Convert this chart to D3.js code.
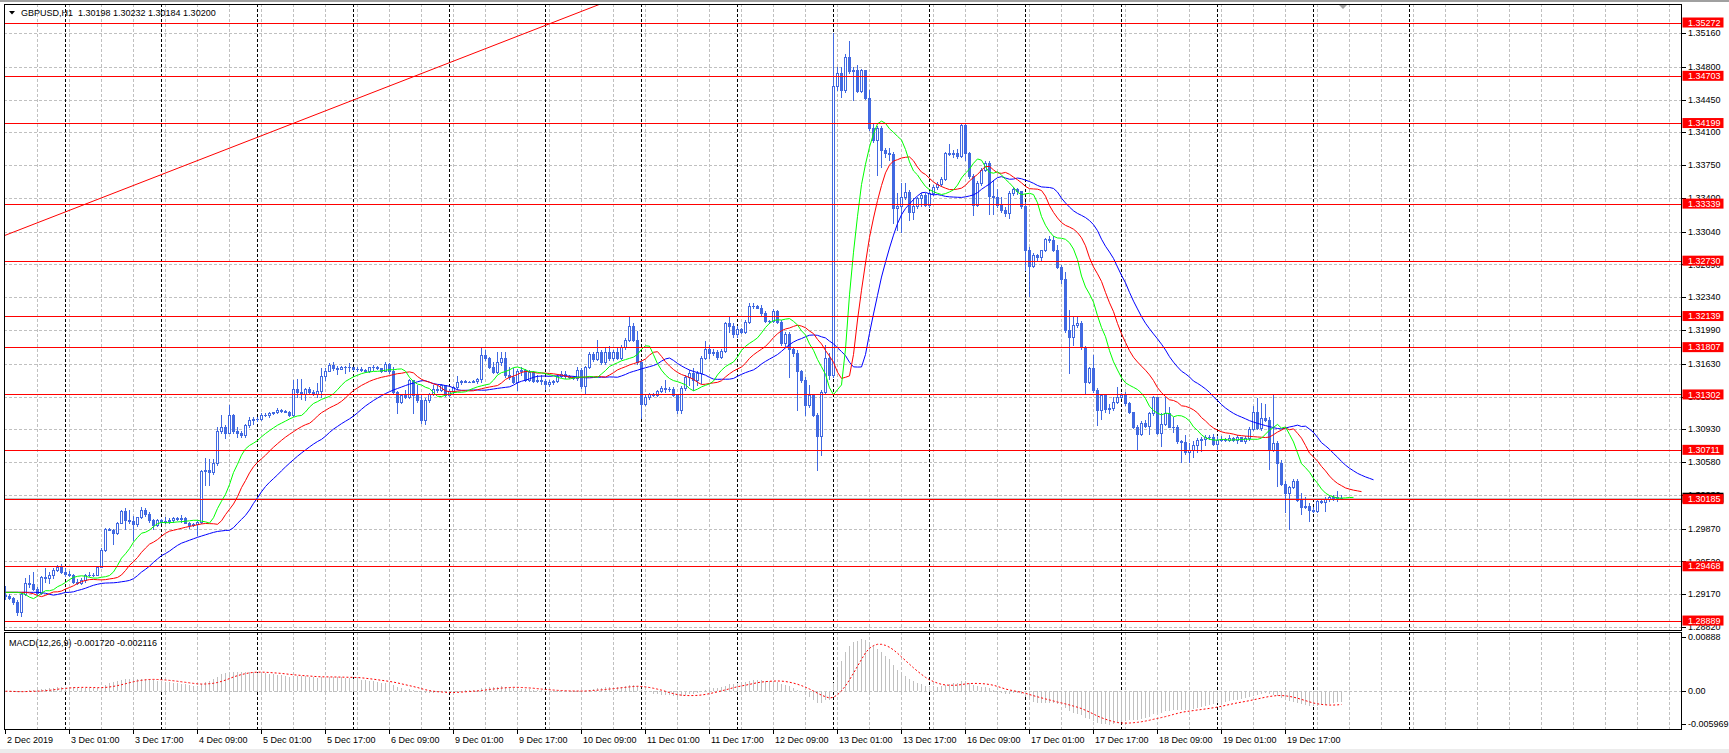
<!DOCTYPE html>
<html><head><meta charset="utf-8">
<script src="https://cdn.jsdelivr.net/npm/d3@7"></script>
<style>
html,body{margin:0;padding:0;background:#fff;overflow:hidden}
svg{display:block}
text{font-family:"Liberation Sans",Arial,sans-serif;font-size:9px;fill:#000}
</style></head><body>
<svg id="chart" width="1729" height="753"></svg>
<script>
// ---------------- DATA ----------------
const symbolHeader = "GBPUSD,H1  1.30198 1.30232 1.30184 1.30200";
const macdHeader = "MACD(12,26,9) -0.001720 -0.002116";
const timeLabels = ["2 Dec 2019","3 Dec 01:00","3 Dec 17:00","4 Dec 09:00","5 Dec 01:00","5 Dec 17:00","6 Dec 09:00","9 Dec 01:00","9 Dec 17:00","10 Dec 09:00","11 Dec 01:00","11 Dec 17:00","12 Dec 09:00","13 Dec 01:00","13 Dec 17:00","16 Dec 09:00","17 Dec 01:00","17 Dec 17:00","18 Dec 09:00","19 Dec 01:00","19 Dec 17:00"];
const priceTicks = ["1.35160","1.34800","1.34450","1.34100","1.33750","1.33400","1.33040","1.32690","1.32340","1.31990","1.31630","1.31280","1.30930","1.30580","1.30230","1.29870","1.29520","1.29170","1.28820"];
const macdTicks = ["0.00888","0.00","-0.005969"];
const levelPrices = [1.35272,1.34703,1.34199,1.33339,1.32730,1.32139,1.31807,1.31302,1.30711,1.30185,1.29468,1.28889];
const trendBars = [0, 103.5];
const trendPrices = [1.33000, 1.34717];
const bidPrice = 1.30200;

const opens = [1.2916,1.2915,1.2913,1.2909,1.2898,1.2917,1.2929,1.2928,1.2923,1.2918,
1.2935,1.2934,1.2937,1.2943,1.2946,1.2941,1.2939,1.2938,1.2930,1.2929,
1.2932,1.2937,1.2938,1.2937,1.2946,1.2964,1.2987,1.2986,1.2982,1.2993,
1.3006,1.2996,1.2995,1.2992,1.2999,1.3007,1.3003,1.2996,1.2991,1.2996,
1.2994,1.2995,1.2996,1.2998,1.2997,1.2998,1.2993,1.2991,1.2992,1.2994,
1.3048,1.3050,1.3047,1.3057,1.3091,1.3095,1.3089,1.3108,1.3091,1.3089,
1.3087,1.3098,1.3103,1.3104,1.3104,1.3108,1.3108,1.3110,1.3111,1.3114,
1.3113,1.3112,1.3108,1.3136,1.3133,1.3131,1.3136,1.3133,1.3131,1.3134,
1.3150,1.3155,1.3162,1.3158,1.3157,1.3159,1.3159,1.3159,1.3157,1.3157,
1.3156,1.3155,1.3159,1.3160,1.3158,1.3155,1.3163,1.3155,1.3133,1.3122,
1.3130,1.3128,1.3146,1.3130,1.3124,1.3103,1.3124,1.3131,1.3136,1.3135,
1.3140,1.3130,1.3134,1.3138,1.3144,1.3145,1.3144,1.3144,1.3145,1.3147,
1.3172,1.3169,1.3159,1.3154,1.3165,1.3169,1.3151,1.3149,1.3144,1.3155,
1.3156,1.3146,1.3154,1.3145,1.3146,1.3145,1.3141,1.3144,1.3145,1.3150,
1.3152,1.3150,1.3149,1.3148,1.3156,1.3139,1.3159,1.3173,1.3168,1.3176,
1.3165,1.3176,1.3169,1.3176,1.3169,1.3181,1.3188,1.3203,1.3188,1.3165,
1.3120,1.3128,1.3131,1.3130,1.3134,1.3137,1.3136,1.3136,1.3130,1.3114,
1.3137,1.3149,1.3153,1.3146,1.3153,1.3169,1.3179,1.3174,1.3176,1.3170,
1.3177,1.3206,1.3203,1.3195,1.3200,1.3197,1.3208,1.3225,1.3225,1.3223,
1.3217,1.3209,1.3209,1.3219,1.3208,1.3185,1.3195,1.3179,1.3174,1.3155,
1.3146,1.3119,1.3130,1.3108,1.3086,1.3133,1.3169,1.3151,1.3459,1.3473,
1.3455,1.3490,1.3475,1.3476,1.3454,1.3476,1.3447,1.3415,1.3402,1.3415,
1.3391,1.3388,1.3387,1.3329,1.3331,1.3341,1.3346,1.3325,1.3331,1.3340,
1.3343,1.3332,1.3345,1.3352,1.3355,1.3360,1.3388,1.3387,1.3388,1.3385,
1.3418,1.3388,1.3363,1.3332,1.3356,1.3370,1.3377,1.3342,1.3341,1.3332,
1.3327,1.3324,1.3345,1.3349,1.3347,1.3331,1.3284,1.3267,1.3279,1.3277,
1.3284,1.3296,1.3295,1.3284,1.3266,1.3253,1.3199,1.3192,1.3204,1.3207,
1.3181,1.3144,1.3158,1.3135,1.3114,1.3130,1.3115,1.3116,1.3122,1.3128,
1.3130,1.3121,1.3111,1.3095,1.3088,1.3100,1.3097,1.3110,1.3128,1.3089,
1.3099,1.3110,1.3096,1.3095,1.3080,1.3079,1.3069,1.3071,1.3076,1.3082,
1.3083,1.3085,1.3085,1.3077,1.3082,1.3083,1.3082,1.3084,1.3082,1.3085,
1.3081,1.3084,1.3093,1.3112,1.3094,1.3105,1.3103,1.3071,1.3078,1.3057,
1.3035,1.3025,1.3031,1.3038,1.3018,1.3010,1.3011,1.3007,1.3006,1.3017,
1.3015,1.3019,1.3021,1.3020,1.30198];

const highs = [1.2926,1.2917,1.2914,1.2911,1.2918,1.2934,1.2937,1.2941,1.2925,1.2936,
1.2945,1.2941,1.2945,1.2948,1.2949,1.2945,1.2942,1.2939,1.2933,1.2934,
1.2939,1.2941,1.2940,1.2947,1.2966,1.2988,1.2988,1.2987,1.2994,1.3007,
1.3009,1.3007,1.3000,1.2999,1.3010,1.3009,1.3005,1.2997,1.2997,1.2997,
1.2999,1.2998,1.2999,1.2999,1.3002,1.2999,1.2994,1.2993,1.2995,1.3050,
1.3062,1.3061,1.3061,1.3096,1.3108,1.3098,1.3119,1.3109,1.3096,1.3091,
1.3099,1.3106,1.3106,1.3106,1.3110,1.3110,1.3111,1.3112,1.3116,1.3115,
1.3114,1.3113,1.3146,1.3147,1.3147,1.3137,1.3138,1.3135,1.3142,1.3158,
1.3158,1.3164,1.3165,1.3161,1.3161,1.3161,1.3164,1.3160,1.3159,1.3159,
1.3157,1.3160,1.3162,1.3161,1.3158,1.3165,1.3164,1.3160,1.3134,1.3131,
1.3135,1.3147,1.3146,1.3140,1.3130,1.3126,1.3132,1.3140,1.3140,1.3141,
1.3140,1.3136,1.3139,1.3150,1.3146,1.3146,1.3145,1.3146,1.3148,1.3180,
1.3178,1.3170,1.3165,1.3175,1.3175,1.3175,1.3159,1.3158,1.3157,1.3159,
1.3157,1.3156,1.3155,1.3151,1.3151,1.3147,1.3146,1.3146,1.3152,1.3155,
1.3155,1.3151,1.3150,1.3159,1.3158,1.3161,1.3175,1.3175,1.3188,1.3178,
1.3180,1.3182,1.3178,1.3180,1.3183,1.3190,1.3214,1.3206,1.3198,1.3167,
1.3131,1.3132,1.3132,1.3135,1.3139,1.3146,1.3138,1.3138,1.3131,1.3139,
1.3151,1.3156,1.3158,1.3155,1.3171,1.3187,1.3183,1.3179,1.3178,1.3179,
1.3208,1.3213,1.3206,1.3203,1.3201,1.3210,1.3228,1.3228,1.3226,1.3226,
1.3219,1.3210,1.3221,1.3220,1.3210,1.3197,1.3197,1.3181,1.3178,1.3156,
1.3149,1.3140,1.3131,1.3110,1.3135,1.3183,1.3174,1.3516,1.3480,1.3480,
1.3494,1.3507,1.3480,1.3482,1.3478,1.3477,1.3455,1.3420,1.3417,1.3417,
1.3393,1.3393,1.3389,1.3345,1.3356,1.3356,1.3348,1.3340,1.3341,1.3345,
1.3345,1.3347,1.3354,1.3357,1.3362,1.3389,1.3397,1.3391,1.3392,1.3420,
1.3420,1.3389,1.3365,1.3358,1.3372,1.3379,1.3379,1.3359,1.3350,1.3341,
1.3330,1.3347,1.3352,1.3351,1.3347,1.3336,1.3288,1.3281,1.3280,1.3284,
1.3297,1.3299,1.3299,1.3290,1.3268,1.3261,1.3220,1.3213,1.3213,1.3209,
1.3182,1.3160,1.3172,1.3137,1.3131,1.3131,1.3120,1.3128,1.3138,1.3132,
1.3133,1.3122,1.3112,1.3098,1.3102,1.3103,1.3112,1.3129,1.3128,1.3110,
1.3128,1.3117,1.3106,1.3098,1.3082,1.3087,1.3078,1.3080,1.3084,1.3085,
1.3087,1.3087,1.3088,1.3086,1.3086,1.3084,1.3087,1.3085,1.3087,1.3085,
1.3086,1.3095,1.3118,1.3126,1.3121,1.3120,1.3106,1.3131,1.3080,1.3060,
1.3038,1.3033,1.3040,1.3040,1.3025,1.3021,1.3014,1.3010,1.3018,1.3018,
1.3021,1.3023,1.3023,1.3027,1.30232];

const lows = [1.2912,1.2912,1.2907,1.2895,1.2894,1.2916,1.2925,1.2922,1.2916,1.2917,
1.2930,1.2929,1.2934,1.2942,1.2940,1.2936,1.2936,1.2929,1.2928,1.2928,
1.2930,1.2936,1.2936,1.2937,1.2946,1.2963,1.2985,1.2971,1.2981,1.2993,
1.2987,1.2993,1.2975,1.2990,1.2998,1.3000,1.2994,1.2987,1.2990,1.2993,
1.2993,1.2993,1.2994,1.2996,1.2994,1.2993,1.2988,1.2990,1.2980,1.2993,
1.3034,1.3034,1.3045,1.3055,1.3089,1.3084,1.3089,1.3089,1.3085,1.3085,
1.3085,1.3096,1.3099,1.3102,1.3103,1.3107,1.3106,1.3109,1.3110,1.3112,
1.3111,1.3107,1.3107,1.3128,1.3125,1.3124,1.3131,1.3130,1.3128,1.3127,
1.3146,1.3155,1.3156,1.3152,1.3157,1.3153,1.3155,1.3156,1.3155,1.3155,
1.3154,1.3154,1.3156,1.3157,1.3154,1.3155,1.3153,1.3131,1.3110,1.3121,
1.3126,1.3126,1.3110,1.3122,1.3100,1.3099,1.3122,1.3130,1.3133,1.3134,
1.3129,1.3129,1.3131,1.3136,1.3141,1.3143,1.3143,1.3143,1.3142,1.3144,
1.3167,1.3158,1.3153,1.3153,1.3162,1.3149,1.3147,1.3142,1.3135,1.3151,
1.3145,1.3145,1.3144,1.3143,1.3141,1.3136,1.3139,1.3141,1.3143,1.3149,
1.3148,1.3148,1.3147,1.3146,1.3137,1.3131,1.3158,1.3166,1.3167,1.3163,
1.3163,1.3167,1.3167,1.3168,1.3168,1.3179,1.3187,1.3187,1.3163,1.3105,
1.3119,1.3125,1.3129,1.3129,1.3133,1.3133,1.3134,1.3129,1.3110,1.3110,
1.3135,1.3140,1.3135,1.3140,1.3142,1.3168,1.3169,1.3172,1.3168,1.3169,
1.3176,1.3197,1.3192,1.3192,1.3196,1.3196,1.3206,1.3222,1.3222,1.3215,
1.3208,1.3207,1.3208,1.3207,1.3183,1.3181,1.3149,1.3171,1.3114,1.3144,
1.3108,1.3117,1.3107,1.3050,1.3066,1.3131,1.3147,1.3149,1.3455,1.3448,
1.3453,1.3473,1.3445,1.3453,1.3453,1.3446,1.3412,1.3400,1.3364,1.3373,
1.3384,1.3380,1.3313,1.3306,1.3304,1.3339,1.3316,1.3318,1.3329,1.3331,
1.3331,1.3330,1.3343,1.3350,1.3353,1.3359,1.3386,1.3384,1.3383,1.3384,
1.3380,1.3361,1.3322,1.3331,1.3354,1.3369,1.3323,1.3323,1.3330,1.3325,
1.3321,1.3319,1.3343,1.3344,1.3329,1.3263,1.3235,1.3266,1.3274,1.3274,
1.3283,1.3293,1.3283,1.3265,1.3249,1.3197,1.3153,1.3183,1.3202,1.3179,
1.3131,1.3142,1.3133,1.3098,1.3104,1.3112,1.3110,1.3114,1.3121,1.3126,
1.3119,1.3110,1.3094,1.3071,1.3087,1.3096,1.3088,1.3108,1.3088,1.3075,
1.3098,1.3095,1.3090,1.3078,1.3058,1.3067,1.3058,1.3063,1.3069,1.3070,
1.3076,1.3083,1.3076,1.3071,1.3080,1.3081,1.3080,1.3081,1.3078,1.3080,
1.3078,1.3082,1.3092,1.3093,1.3092,1.3102,1.3051,1.3070,1.3032,1.3034,
1.3005,1.2987,1.3030,1.3016,1.3003,1.3009,1.2995,1.3005,1.3005,1.3014,
1.3006,1.3017,1.3018,1.3017,1.30184];

const closes = [1.2915,1.2913,1.2909,1.2898,1.2917,1.2929,1.2928,1.2923,1.2918,1.2935,
1.2934,1.2937,1.2943,1.2946,1.2941,1.2939,1.2938,1.2930,1.2929,1.2932,
1.2937,1.2938,1.2937,1.2946,1.2964,1.2987,1.2986,1.2982,1.2993,1.3006,
1.2996,1.2995,1.2992,1.2999,1.3007,1.3003,1.2996,1.2991,1.2996,1.2994,
1.2995,1.2996,1.2998,1.2997,1.2998,1.2993,1.2991,1.2992,1.2994,1.3048,
1.3050,1.3047,1.3057,1.3091,1.3095,1.3089,1.3108,1.3091,1.3089,1.3087,
1.3098,1.3103,1.3104,1.3104,1.3108,1.3108,1.3110,1.3111,1.3114,1.3113,
1.3112,1.3108,1.3136,1.3133,1.3131,1.3136,1.3133,1.3131,1.3134,1.3150,
1.3155,1.3162,1.3158,1.3157,1.3159,1.3159,1.3159,1.3157,1.3157,1.3156,
1.3155,1.3159,1.3160,1.3158,1.3155,1.3163,1.3155,1.3133,1.3122,1.3130,
1.3128,1.3146,1.3130,1.3124,1.3103,1.3124,1.3131,1.3136,1.3135,1.3140,
1.3130,1.3134,1.3138,1.3144,1.3145,1.3144,1.3144,1.3145,1.3147,1.3172,
1.3169,1.3159,1.3154,1.3165,1.3169,1.3151,1.3149,1.3144,1.3155,1.3156,
1.3146,1.3154,1.3145,1.3146,1.3145,1.3141,1.3144,1.3145,1.3150,1.3152,
1.3150,1.3149,1.3148,1.3156,1.3139,1.3159,1.3173,1.3168,1.3176,1.3165,
1.3176,1.3169,1.3176,1.3169,1.3181,1.3188,1.3203,1.3188,1.3165,1.3120,
1.3128,1.3131,1.3130,1.3134,1.3137,1.3136,1.3136,1.3130,1.3114,1.3137,
1.3149,1.3153,1.3146,1.3153,1.3169,1.3179,1.3174,1.3176,1.3170,1.3177,
1.3206,1.3203,1.3195,1.3200,1.3197,1.3208,1.3225,1.3225,1.3223,1.3217,
1.3209,1.3209,1.3219,1.3208,1.3185,1.3195,1.3179,1.3174,1.3155,1.3146,
1.3119,1.3130,1.3108,1.3086,1.3133,1.3169,1.3151,1.3459,1.3473,1.3455,
1.3490,1.3475,1.3476,1.3454,1.3476,1.3447,1.3415,1.3402,1.3415,1.3391,
1.3388,1.3387,1.3329,1.3331,1.3341,1.3346,1.3325,1.3331,1.3340,1.3343,
1.3332,1.3345,1.3352,1.3355,1.3360,1.3388,1.3387,1.3388,1.3385,1.3418,
1.3388,1.3363,1.3332,1.3356,1.3370,1.3377,1.3342,1.3341,1.3332,1.3327,
1.3324,1.3345,1.3349,1.3347,1.3331,1.3284,1.3267,1.3279,1.3277,1.3284,
1.3296,1.3295,1.3284,1.3266,1.3253,1.3199,1.3192,1.3204,1.3207,1.3181,
1.3144,1.3158,1.3135,1.3114,1.3130,1.3115,1.3116,1.3122,1.3128,1.3130,
1.3121,1.3111,1.3095,1.3088,1.3100,1.3097,1.3110,1.3128,1.3089,1.3099,
1.3110,1.3096,1.3095,1.3080,1.3079,1.3069,1.3071,1.3076,1.3082,1.3083,
1.3085,1.3085,1.3077,1.3082,1.3083,1.3082,1.3084,1.3082,1.3085,1.3081,
1.3084,1.3093,1.3112,1.3094,1.3105,1.3103,1.3071,1.3078,1.3057,1.3035,
1.3025,1.3031,1.3038,1.3018,1.3010,1.3011,1.3007,1.3006,1.3017,1.3015,
1.3019,1.3021,1.3020,1.3021,1.30200];

// ---------------- BUILD ----------------
const n = Math.min(opens.length, highs.length, lows.length, closes.length);
const bars = d3.range(n).map(i => ({i, o: opens[i], h: highs[i], l: lows[i], c: closes[i]}));

// bar times (hourly, weekends skipped) – category axis
const months = ["Jan","Feb","Mar","Apr","May","Jun","Jul","Aug","Sep","Oct","Nov","Dec"];
const barTimes = [];
{ let t = Date.UTC(2019, 11, 2, 9);
  for (let i = 0; i < n + 90; i++) {
    barTimes.push(t); t += 3600e3;
    if (new Date(t).getUTCDay() === 6) t += 48 * 3600e3;
  } }
const fmt = t => { const d = new Date(t); const p = v => String(v).padStart(2, "0");
  return `${d.getUTCDate()} ${months[d.getUTCMonth()]} ${p(d.getUTCHours())}:${p(d.getUTCMinutes())}`; };

// Indicators: Alligator (SMMA of median price 13/8, 8/5, 5/3) and MACD(12,26,9)
function smma(period) {
  const med = bars.map(b => (b.h + b.l) / 2);
  const out = []; let prev = med[0];
  med.forEach((m, i) => { prev = i === 0 ? m : (prev * (period - 1) + m) / period; out.push(prev); });
  return out;
}
function shifted(vals, shift) {
  return d3.range(n + shift).map(j => ({i: j, v: vals[Math.max(0, j - shift)]}));
}
const jaw = shifted(smma(13), 8), teeth = shifted(smma(8), 5), lips = shifted(smma(5), 3);
function ema(period) {
  const a = 2 / (period + 1); let prev = closes[0];
  return closes.slice(0, n).map((c, i) => (prev = i === 0 ? c : prev + a * (c - prev)));
}
const e12 = ema(12), e26 = ema(26);
const macd = e12.map((v, i) => v - e26[i]);
const signal = macd.map((v, i) => d3.mean(macd.slice(Math.max(0, i - 8), i + 1)));

// ---------------- SCALES ----------------
const W = 1729, H = 753;
const L = 4, R = 1681, mainTop = 4, mainBot = 630, mTop = 632, mBot = 729;
const x = d3.scaleLinear().domain([0, 416]).range([5, 1669]);
const yP = d3.scaleLinear().domain([+priceTicks[priceTicks.length - 1], +priceTicks[0]]).range([627, 33]);
const yM = d3.scaleLinear().domain([+macdTicks[2], +macdTicks[0]]).range([729, 635]);
const px = i => Math.round(x(i));

const svg = d3.select("#chart");
svg.append("rect").attr("width", W).attr("height", H).attr("fill", "#fff");
svg.append("rect").attr("width", W).attr("height", 2).attr("fill", "#a0a0a0");
svg.append("rect").attr("y", 749).attr("width", W).attr("height", 4).attr("fill", "#ececec");

const defs = svg.append("defs");
defs.append("clipPath").attr("id", "clipMain").append("rect").attr("x", L + 1).attr("y", mainTop + 1).attr("width", R - L - 1).attr("height", mainBot - mainTop - 1);
defs.append("clipPath").attr("id", "clipMacd").append("rect").attr("x", L + 1).attr("y", mTop + 1).attr("width", R - L - 1).attr("height", mBot - mTop - 1);

const gridIdx = d3.range(8, 417, 8);
const sepIdx = d3.range(barTimes.length).filter(i => i > 0 && i <= n + 23 && new Date(barTimes[i]).getUTCHours() === 0);

function vGrid(g, y0, y1) {
  g.selectAll("line.vg").data(gridIdx).join("line").attr("class", "vg")
    .attr("x1", i => px(i) + 0.5).attr("x2", i => px(i) + 0.5).attr("y1", y0).attr("y2", y1)
    .attr("stroke", "#c0c0c0").attr("stroke-dasharray", "3,2");
  g.selectAll("line.sep").data(sepIdx).join("line").attr("class", "sep")
    .attr("x1", i => px(i) + 0.5).attr("x2", i => px(i) + 0.5).attr("y1", y0).attr("y2", y1)
    .attr("stroke", "#000").attr("stroke-dasharray", "3,2");
}

// ---- main window ----
const gm = svg.append("g").attr("clip-path", "url(#clipMain)");
gm.selectAll("line.hg").data(priceTicks).join("line").attr("class", "hg")
  .attr("x1", L).attr("x2", R).attr("y1", d => Math.round(yP(+d)) + 0.5).attr("y2", d => Math.round(yP(+d)) + 0.5)
  .attr("stroke", "#c0c0c0").attr("stroke-dasharray", "3,2");
vGrid(gm, mainTop, mainBot);

// bid line
gm.append("line").attr("x1", L).attr("x2", R)
  .attr("y1", Math.round(yP(bidPrice)) + 0.5).attr("y2", Math.round(yP(bidPrice)) + 0.5)
  .attr("stroke", "#c0c0c0");

// candles
const blue = "#4169e1";
const gc = gm.append("g").attr("shape-rendering", "crispEdges");
const cg = gc.selectAll("g").data(bars).join("g");
cg.append("rect").attr("x", d => px(d.i)).attr("width", 1)
  .attr("y", d => Math.round(yP(Math.max(d.h, d.o, d.c))))
  .attr("height", d => Math.round(yP(Math.min(d.l, d.o, d.c))) - Math.round(yP(Math.max(d.h, d.o, d.c))) + 1)
  .attr("fill", blue);
const bodyTop = d => Math.round(yP(Math.max(d.o, d.c)));
const bodyH = d => Math.max(1, Math.round(yP(Math.min(d.o, d.c))) - bodyTop(d) + 1);
cg.append("rect").attr("x", d => px(d.i) - 1).attr("width", 3)
  .attr("y", bodyTop).attr("height", bodyH).attr("fill", blue);
cg.filter(d => d.c > d.o && bodyH(d) > 2).append("rect")
  .attr("x", d => px(d.i)).attr("width", 1)
  .attr("y", d => bodyTop(d) + 1).attr("height", d => bodyH(d) - 2).attr("fill", "#fff");

// alligator
const aLine = d3.line().x(d => px(d.i) + 0.5).y(d => yP(d.v));
[[jaw, "#0000ff"], [teeth, "#ff0000"], [lips, "#00ff00"]].forEach(([data, col]) =>
  gm.append("path").datum(data).attr("d", aLine).attr("fill", "none").attr("stroke", col).attr("stroke-width", 1));

// horizontal levels + trendline
gm.selectAll("line.lvl").data(levelPrices).join("line").attr("class", "lvl")
  .attr("x1", L).attr("x2", R).attr("y1", d => Math.round(yP(d)) + 0.5).attr("y2", d => Math.round(yP(d)) + 0.5)
  .attr("stroke", "#ff0000");
{
  const slope = (trendPrices[1] - trendPrices[0]) / (trendBars[1] - trendBars[0]);
  const i0 = -10, i1 = 420;
  gm.append("line").attr("x1", x(i0)).attr("y1", yP(trendPrices[0] + slope * (i0 - trendBars[0])))
    .attr("x2", x(i1)).attr("y2", yP(trendPrices[0] + slope * (i1 - trendBars[0])))
    .attr("stroke", "#ff0000").attr("stroke-width", 1);
}

// chart shift marker
svg.append("path").attr("d", `M${x(334.5) - 4},5 L${x(334.5) + 4},5 L${x(334.5)},9 Z`).attr("fill", "#a0a0a0");

// ---- MACD window ----
const gd = svg.append("g").attr("clip-path", "url(#clipMacd)");
gd.append("line").attr("x1", L).attr("x2", R).attr("y1", Math.round(yM(0)) + 0.5).attr("y2", Math.round(yM(0)) + 0.5)
  .attr("stroke", "#c0c0c0").attr("stroke-dasharray", "3,2");
vGrid(gd, mTop, mBot);
gd.append("g").attr("shape-rendering", "crispEdges").selectAll("rect").data(macd).join("rect")
  .attr("x", (v, i) => px(i)).attr("width", 1)
  .attr("y", v => Math.round(Math.min(yM(v), yM(0))))
  .attr("height", v => Math.max(1, Math.round(Math.abs(yM(v) - yM(0)))))
  .attr("fill", "#c0c0c0");
gd.append("path").datum(signal).attr("fill", "none").attr("stroke", "#ff0000").attr("stroke-dasharray", "2,2")
  .attr("d", d3.line().x((v, i) => px(i) + 0.5).y(v => yM(v)));

// ---- frames ----
svg.append("rect").attr("x", L + 0.5).attr("y", mainTop + 0.5).attr("width", R - L).attr("height", mainBot - mainTop)
  .attr("fill", "none").attr("stroke", "#000");
svg.append("rect").attr("x", L + 0.5).attr("y", mTop + 0.5).attr("width", R - L).attr("height", mBot - mTop)
  .attr("fill", "none").attr("stroke", "#000");

// ---- price axis ----
const ax = svg.append("g");
ax.selectAll("line.pt").data(priceTicks).join("line").attr("class", "pt")
  .attr("x1", R + 1).attr("x2", R + 5).attr("y1", d => Math.round(yP(+d)) + 0.5).attr("y2", d => Math.round(yP(+d)) + 0.5)
  .attr("stroke", "#000");
ax.selectAll("text.pt").data(priceTicks).join("text").attr("class", "pt")
  .attr("x", R + 7).attr("y", d => yP(+d)).attr("dy", "0.35em").text(d => d);

// bid marker (black, mostly hidden) then level labels (red)
ax.append("rect").attr("x", R + 1.5).attr("y", yP(bidPrice) - 5).attr("width", 41).attr("height", 10).attr("fill", "#000");
const lab = ax.selectAll("g.lvl").data(levelPrices).join("g").attr("class", "lvl");
lab.append("rect").attr("x", R + 1.5).attr("y", d => yP(d) - 5).attr("width", 41).attr("height", 10).attr("fill", "#ff0000");
lab.append("text").attr("x", R + 7).attr("y", d => yP(d)).attr("dy", "0.35em").style("fill", "#fff").text(d => d.toFixed(5));

// ---- MACD axis ----
ax.selectAll("line.mt").data(macdTicks).join("line").attr("class", "mt")
  .attr("x1", R + 1).attr("x2", R + 5)
  .attr("y1", d => Math.round(Math.min(Math.max(yM(+d), 637), 724)) + 0.5)
  .attr("y2", d => Math.round(Math.min(Math.max(yM(+d), 637), 724)) + 0.5).attr("stroke", "#000");
ax.selectAll("text.mt").data(macdTicks).join("text").attr("class", "mt")
  .attr("x", R + 7).attr("y", d => Math.min(Math.max(yM(+d), 637), 724)).attr("dy", "0.35em").text(d => d);

// ---- time axis ----
const labIdx = timeLabels.map((s, k) => k === 0 ? 0 : barTimes.findIndex(t => fmt(t) === s));
const tg = svg.append("g").selectAll("g").data(timeLabels.map((s, k) => ({s, i: labIdx[k]})).filter(d => d.i >= 0)).join("g");
tg.append("line").attr("x1", d => px(d.i) + 0.5).attr("x2", d => px(d.i) + 0.5).attr("y1", mBot).attr("y2", mBot + 5).attr("stroke", "#000");
tg.append("text").attr("x", d => px(d.i) + 2).attr("y", 743).text(d => d.s);

// ---- headers ----
svg.append("path").attr("d", "M9,11 L15,11 L12,14.5 Z").attr("fill", "#000");
svg.append("text").attr("x", 21).attr("y", 16).style("white-space", "pre").text(symbolHeader);
svg.append("text").attr("x", 9).attr("y", 646).style("white-space", "pre").text(macdHeader);
</script>
</body></html>
